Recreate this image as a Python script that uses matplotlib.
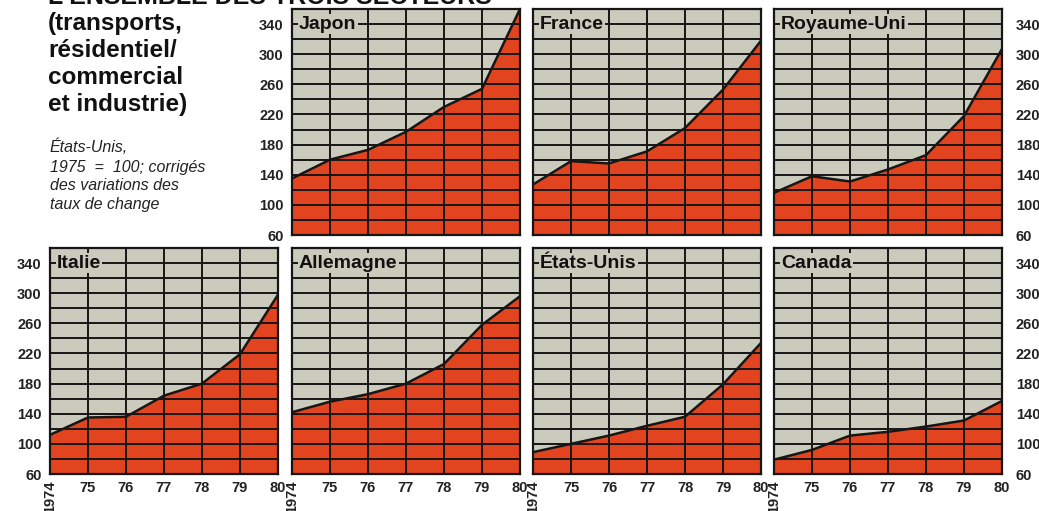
import numpy as np
import matplotlib
matplotlib.use('Agg')
import matplotlib.pyplot as plt

plt.rcParams['font.family'] = ['Liberation Sans', 'DejaVu Sans']

# ------------------------------------
# DATA (index, Etats-Unis 1975 = 100)
# ------------------------------------
years = [1974, 1975, 1976, 1977, 1978, 1979, 1980]
year_labels = ['1974', '75', '76', '77', '78', '79', '80']

countries = ['Japon', 'France', 'Royaume-Uni', 'Italie', 'Allemagne', 'États-Unis', 'Canada']
japon = [135, 160, 173, 197, 230, 254, 360]
france = [127, 158, 155, 171, 202, 253, 318]
royaume_uni = [116, 138, 131, 147, 166, 218, 307]
italie = [112, 135, 136, 164, 180, 219, 298]
allemagne = [142, 156, 166, 180, 206, 258, 296]
etats_unis = [89, 100, 111, 124, 136, 179, 234]
canada = [79, 92, 111, 116, 123, 131, 157]
series = [japon, france, royaume_uni, italie, allemagne, etats_unis, canada]

y_ticks = [60, 100, 140, 180, 220, 260, 300, 340]

# ------------------------------------
# STYLE / LAYOUT (pixels)
# ------------------------------------
W, H = 1039, 511
BG = '#cbcbbd'
RED = '#e2441f'
INK = '#161616'

fig = plt.figure(figsize=(W / 100, H / 100), dpi=100)
fig.patch.set_facecolor('white')

col_left = [50, 292, 533, 774]
panel_w = 228
row_top = [9, 248]
panel_h = 226

# slot (row, col) for each country
slots = {'Japon': (0, 1), 'France': (0, 2), 'Royaume-Uni': (0, 3),
         'Italie': (1, 0), 'Allemagne': (1, 1), 'États-Unis': (1, 2), 'Canada': (1, 3)}


def make_axes(row, col):
    l = col_left[col] / W
    b = 1 - (row_top[row] + panel_h) / H
    return fig.add_axes([l, b, panel_w / W, panel_h / H])


for name, vals in zip(countries, series):
    row, col = slots[name]
    ax = make_axes(row, col)
    ax.set_facecolor(BG)
    ax.set_xlim(years[0], years[-1])
    ax.set_ylim(60, 360)

    ax.fill_between(years, 60, vals, color=RED, lw=0, zorder=1)
    for yy in range(80, 360, 20):
        ax.axhline(yy, color=INK, lw=1.4, zorder=2)
    for xx in years[1:-1]:
        ax.axvline(xx, color=INK, lw=1.4, zorder=2)
    ax.plot(years, vals, color=INK, lw=1.8, zorder=3, clip_on=True)

    ax.text(years[0] + 0.18, 340, name, fontsize=14, fontweight='bold', color='#111111',
            va='center', ha='left', zorder=5,
            bbox=dict(boxstyle='square,pad=0.06', facecolor=BG, edgecolor='none'))

    for s in ax.spines.values():
        s.set_color(INK)
        s.set_linewidth(1.6)

    ax.set_yticks(y_ticks)
    ax.set_xticks(years)
    ax.tick_params(length=0)
    # y labels only on outer panels
    if col == 0 or (row == 0 and col == 1):
        ax.tick_params(axis='y', labelleft=True, labelright=False, pad=6)
    elif col == 3:
        ax.tick_params(axis='y', labelleft=False, labelright=True, pad=10)
    else:
        ax.tick_params(axis='y', labelleft=False, labelright=False)
    for lab in ax.get_yticklabels():
        lab.set_fontsize(10.5)
        lab.set_fontweight('bold')
        lab.set_color('#222222')

    if row == 1:
        ax.set_xticklabels(year_labels)
        ax.tick_params(axis='x', pad=5)
        for i, lab in enumerate(ax.get_xticklabels()):
            lab.set_fontsize(10.5)
            lab.set_fontweight('bold')
            lab.set_color('#222222')
            if i == 0:
                lab.set_rotation(90)
                lab.set_va('top')
                lab.set_ha('center')
    else:
        ax.set_xticklabels([])

# ------------------------------------
# TITLE BLOCK
# ------------------------------------
fig.text(48 / W, 1 - 4 / H, "L'ENSEMBLE DES TROIS SECTEURS", fontsize=18, fontweight='bold',
         color='#111111', ha='left', va='baseline')
title_lines = ['(transports,', 'résidentiel/', 'commercial', 'et industrie)']
title_y = [30, 57, 84, 111]
for txt, ty in zip(title_lines, title_y):
    fig.text(48 / W, 1 - ty / H, txt, fontsize=17.5, fontweight='bold', color='#111111',
             ha='left', va='baseline')

sub_lines = ['États-Unis,', '1975  =  100; corrigés', 'des variations des', 'taux de change']
sub_y = [152, 172, 190, 209]
for txt, ty in zip(sub_lines, sub_y):
    fig.text(50 / W, 1 - ty / H, txt, fontsize=11.5, fontstyle='italic', color='#222222',
             ha='left', va='baseline')

fig.savefig('out.png', dpi=100, facecolor='white')
